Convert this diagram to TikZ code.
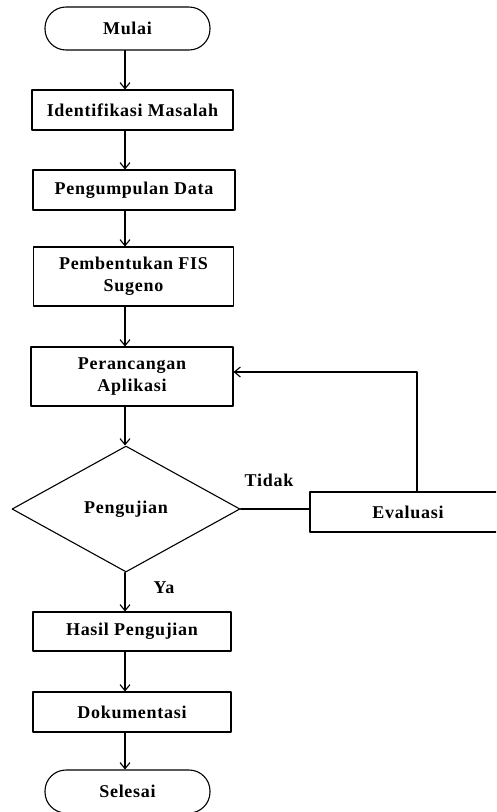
\documentclass[tikz,border=0pt]{standalone}
\usepackage{fontspec}
\setmainfont{Liberation Serif}[LetterSpace=4]
\usetikzlibrary{arrows.meta,shapes.geometric}
\tikzset{
  kotak/.style={draw,minimum width=200pt,minimum height=40pt,align=center,inner sep=2pt},
  bulat/.style={draw,rounded corners=21pt,minimum width=165pt,minimum height=43pt},
  belah/.style={draw,diamond,minimum width=228pt,minimum height=126pt,inner sep=0pt},
  panah/.style={->},
}

\begin{document}
\begin{tikzpicture}[line cap=round,line join=round,line width=1.1pt,>={Straight Barb[length=6pt,width=10pt]},x=1pt,y=-1pt,font=\bfseries\fontsize{18}{22}\selectfont]
\useasboundingbox (0,0) rectangle (496,812);
\clip (0,0) rectangle (496,812);
\coordinate (spine) at (125,0);
\coordinate (balik) at (417,372);
\node[bulat] (mulai) at (127.5,28.5) {Mulai};
\node[kotak,minimum width=201pt] (ident) at (132.5,110) {Identifikasi Masalah};
\node[kotak,minimum width=202pt] (kumpul) at (134,190) {Pengumpulan Data};
\node[kotak,minimum height=59pt] (bentuk) at (133.5,276.5) {Pembentukan FIS\\Sugeno};
\node[kotak,minimum width=202pt,minimum height=59pt] (rancang) at (132,376.5) {Perancangan\\Aplikasi};
\node[belah] (uji) at (126,509) {Pengujian};
\node[kotak,minimum width=196pt] (eval) at (408,512) {Evaluasi};
\node[kotak,minimum width=198pt,minimum height=39pt] (hasil) at (132,631.5) {Hasil Pengujian};
\node[kotak,minimum width=198pt] (dok) at (132,712) {Dokumentasi};
\node[bulat] (selesai) at (127.5,791.5) {Selesai};
\node (tidak) at (269,480) {Tidak};
\node (ya) at (164,588) {Ya};
\draw [panah] (mulai.south -| spine) -- (ident.north -| spine);
\draw [panah] (ident.south -| spine) -- (kumpul.north -| spine);
\draw [panah] (kumpul.south -| spine) -- (bentuk.north -| spine);
\draw [panah] (bentuk.south -| spine) -- (rancang.north -| spine);
\draw [panah] (rancang.south -| spine) -- (uji.north -| spine);
\draw [panah] (uji.south -| spine) -- (hasil.north -| spine);
\draw [panah] (hasil.south -| spine) -- (dok.north -| spine);
\draw [panah] (dok.south -| spine) -- (selesai.north -| spine);
\draw (uji.east) -- (uji.east -| eval.west);
\draw [panah] (eval.north -| balik) -- (balik) -- (balik -| rancang.east);
\end{tikzpicture}
\end{document}
